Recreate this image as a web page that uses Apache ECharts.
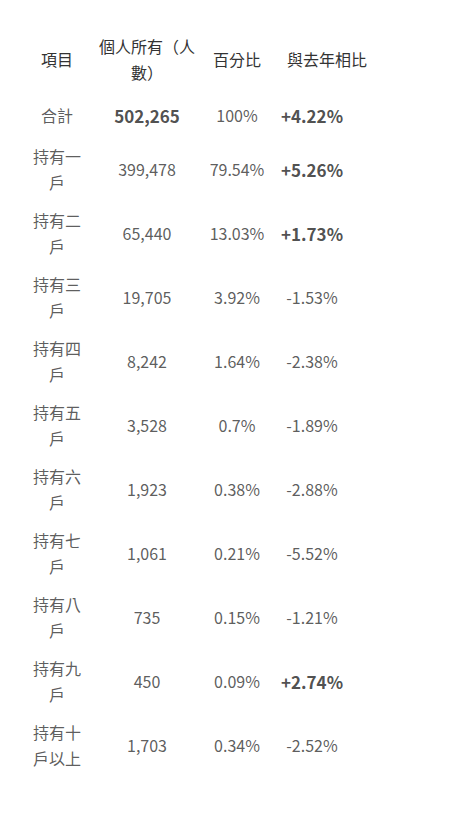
<!DOCTYPE html>
<html><head><meta charset="utf-8">
<script src="https://cdn.jsdelivr.net/npm/echarts@6/dist/echarts.min.js"></script>
<style>html,body{margin:0;background:#fff}#c{width:457px;height:819px}</style>
</head><body><div id="c"></div>
<script>
const headers = ['項目', '個人所有（人\n數）', '百分比', '與去年相比'];
const rows = ['合計', '持有一\n戶', '持有二\n戶', '持有三\n戶', '持有四\n戶', '持有五\n戶', '持有六\n戶', '持有七\n戶', '持有八\n戶', '持有九\n戶', '持有十\n戶以上'];
const owners = ['502,265', '399,478', '65,440', '19,705', '8,242', '3,528', '1,923', '1,061', '735', '450', '1,703'];
const shares = ['100%', '79.54%', '13.03%', '3.92%', '1.64%', '0.7%', '0.38%', '0.21%', '0.15%', '0.09%', '0.34%'];
const changes = ['+4.22%', '+5.26%', '+1.73%', '-1.53%', '-2.38%', '-1.89%', '-2.88%', '-5.52%', '-1.21%', '+2.74%', '-2.52%'];

const font = '"Noto Sans CJK TC", sans-serif';
const chart = echarts.init(document.getElementById('c'), null, {renderer: 'svg'});

// the last column sits a little left of its band in the original
const colShift = [0, 0, 0, -15];

function col(i, texts, boldFn) {
  return {
    type: 'scatter', symbolSize: 0, silent: true,
    data: texts.map((t, r) => {
      const label = {offset: [colShift[i], r === 0 ? 10 : 0]};
      if (boldFn && boldFn(t, r)) Object.assign(label, {fontWeight: 'bold', fontSize: 17, color: '#222'});
      return {value: [i, r, t], label};
    }),
    label: {
      show: true, position: 'inside', formatter: p => p.value[2],
      color: '#333', fontSize: 16, fontFamily: font, lineHeight: 26
    }
  };
}

chart.setOption({
  animation: false,
  grid: {left: 12, right: 85, top: 73, bottom: 42},
  xAxis: {
    type: 'category', data: headers, position: 'top',
    axisLine: {show: false}, axisTick: {show: false},
    axisLabel: {
      color: '#333', fontSize: 16, fontFamily: font, lineHeight: 26, margin: 14,
      verticalAlign: 'middle', interval: 0,
      formatter: (v, idx) => v
    }
  },
  yAxis: {type: 'category', data: rows, inverse: true, show: false},
  series: [
    col(0, rows),
    col(1, owners, (t, r) => r === 0),
    col(2, shares),
    col(3, changes, t => t[0] === '+')
  ]
});
</script></body></html>
